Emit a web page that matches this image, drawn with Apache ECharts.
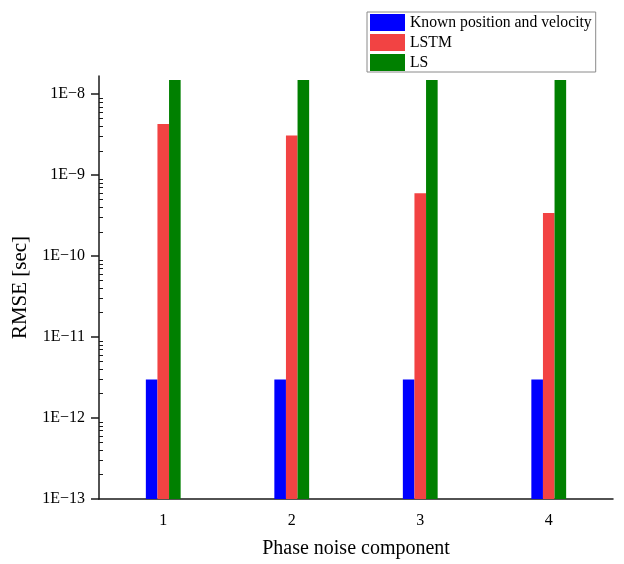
<!DOCTYPE html>
<html>
<head>
<meta charset="utf-8">
<script src="https://cdn.jsdelivr.net/npm/echarts@6/dist/echarts.min.js"></script>
<style>
  html, body { margin: 0; padding: 0; background: #fff; }
  #chart { width: 624px; height: 564px; }
</style>
</head>
<body>
<div id="chart"></div>
<script>
// Category labels and RMSE per method (seconds)
const categories = ['1', '2', '3', '4'];
const knownPV = [3.0e-12, 3.0e-12, 3.0e-12, 3.0e-12];
const lstm = [4.3e-9, 3.1e-9, 6.0e-10, 3.4e-10];
const ls = [1.5e-8, 1.5e-8, 1.5e-8, 1.5e-8];
const seriesNames = ['Known position and velocity', 'LSTM', 'LS'];

// Log axis range (seconds)
const yMin = 1e-13;
const yMax = 1.68e-8;

// Bars on a log axis grow from value 1, so values are plotted in units of yMin
// (the axis bottom); labels convert back to seconds.
const UNIT = yMin;
const UNIT_EXP = Math.round(Math.log10(UNIT));
const toUnits = arr => arr.map(v => v / UNIT);

// Tick positions in log10 space (units of yMin) for the overlay tick axes
const logMax = Math.log10(yMax / UNIT);
const majorLogs = [];
const minorLogs = [];
for (let e = 0; e <= Math.floor(logMax); e++) {
  majorLogs.push(e);
  for (let k = 2; k <= 9; k++) {
    const v = Math.log10(k) + e;
    if (v <= logMax) minorLogs.push(v);
  }
}

const FONT = "'Liberation Serif', 'Times New Roman', serif";
const AXIS_COLOR = '#1a1a1a';

const chart = echarts.init(document.getElementById('chart'), null, { renderer: 'canvas' });

chart.setOption({
  backgroundColor: '#ffffff',
  animation: false,
  grid: { left: 99, right: 11, top: 76, bottom: 64, containLabel: false },
  legend: {
    orient: 'vertical',
    left: 367,
    top: 12,
    icon: 'rect',
    itemWidth: 35,
    itemHeight: 17,
    itemGap: 3,
    padding: [2, 4, 1, 3],
    borderColor: '#8a8a8a',
    borderWidth: 1,
    backgroundColor: '#ffffff',
    textStyle: { fontFamily: FONT, fontSize: 15.7, color: '#000' },
    data: seriesNames
  },
  xAxis: [
    {
      type: 'category',
      data: categories,
      boundaryGap: true,
      name: 'Phase noise component',
      nameLocation: 'middle',
      nameGap: 40,
      nameTextStyle: { fontFamily: FONT, fontSize: 20, color: '#000' },
      axisLine: { lineStyle: { color: AXIS_COLOR, width: 1.5 } },
      axisTick: { alignWithLabel: true, length: 8, lineStyle: { color: AXIS_COLOR, width: 1.5 } },
      axisLabel: { fontFamily: FONT, fontSize: 16, color: '#000', margin: 14 },
      splitLine: { show: false }
    },
    {
      // band-boundary ticks
      type: 'category',
      data: categories,
      position: 'bottom',
      boundaryGap: true,
      axisLine: { show: false },
      axisTick: { alignWithLabel: false, length: 5, lineStyle: { color: AXIS_COLOR, width: 1.5 } },
      axisLabel: { show: false },
      splitLine: { show: false }
    }
  ],
  yAxis: [
    {
      type: 'log',
      logBase: 10,
      min: yMin / UNIT,
      max: yMax / UNIT,
      position: 'left',
      name: 'RMSE [sec]',
      nameLocation: 'middle',
      nameGap: 64,
      nameTextStyle: { fontFamily: FONT, fontSize: 21, color: '#000' },
      axisLine: { show: true, lineStyle: { color: AXIS_COLOR, width: 1.5 } },
      axisTick: { show: false },
      minorTick: { show: false },
      axisLabel: {
        fontFamily: FONT, fontSize: 16, color: '#000', margin: 14,
        showMaxLabel: false,
        formatter: function (v) {
          const lv = Math.log10(v);
          const e = Math.round(lv);
          if (Math.abs(lv - e) > 1e-6) return '';
          const exp = e + UNIT_EXP;
          return '1E' + (exp < 0 ? '\u2212' + (-exp) : exp);
        }
      },
      splitLine: { show: false }
    },
    {
      // major decade ticks (outward)
      type: 'value',
      min: 0,
      max: logMax,
      position: 'left',
      axisLine: { show: false },
      axisLabel: { show: false },
      axisTick: { show: true, length: 8, customValues: majorLogs, lineStyle: { color: AXIS_COLOR, width: 1.5 } },
      splitLine: { show: false }
    },
    {
      // minor ticks at 2..9 of each decade (inward)
      type: 'value',
      min: 0,
      max: logMax,
      position: 'left',
      axisLine: { show: false },
      axisLabel: { show: false },
      axisTick: { show: true, inside: true, length: 4, customValues: minorLogs, lineStyle: { color: AXIS_COLOR, width: 1 } },
      splitLine: { show: false }
    }
  ],
  series: [
    {
      name: seriesNames[0], type: 'bar', xAxisIndex: 0, yAxisIndex: 0,
      data: toUnits(knownPV), barWidth: 11.6, barGap: '0%',
      itemStyle: { color: '#0000ff' }
    },
    {
      name: seriesNames[1], type: 'bar', xAxisIndex: 0, yAxisIndex: 0,
      data: toUnits(lstm), barWidth: 11.6, barGap: '0%',
      itemStyle: { color: '#f24343' }
    },
    {
      name: seriesNames[2], type: 'bar', xAxisIndex: 0, yAxisIndex: 0,
      data: toUnits(ls), barWidth: 11.6, barGap: '0%',
      itemStyle: { color: '#008000' }
    }
  ]
});
</script>
</body>
</html>
